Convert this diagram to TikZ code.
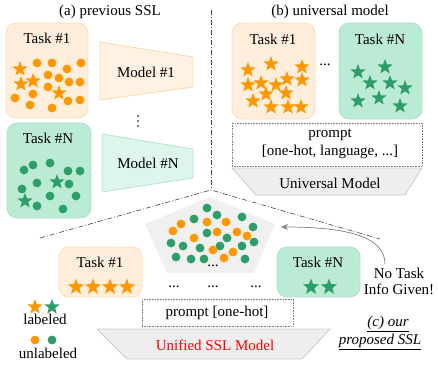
\documentclass[tikz,border=0pt]{standalone}
\usepackage{fontspec}
\setmainfont{Liberation Serif}
\usetikzlibrary{shapes.geometric,arrows.meta}
\definecolor{oran}{RGB}{255,152,0}
\definecolor{gree}{RGB}{46,158,104}
\definecolor{obox}{RGB}{255,238,219}
\definecolor{oboxb}{RGB}{252,222,184}
\definecolor{gbox}{RGB}{188,235,213}
\definecolor{gboxb}{RGB}{172,228,200}
\definecolor{omod}{RGB}{255,242,227}
\definecolor{omodb}{RGB}{250,217,171}
\definecolor{gmod}{RGB}{221,245,234}
\definecolor{gmodb}{RGB}{179,230,206}
\definecolor{gfill}{RGB}{240,240,240}
\definecolor{umod}{RGB}{238,238,238}
\definecolor{umodb}{RGB}{204,204,204}
\tikzset{
  txt/.style={inner sep=0pt, font=\fontsize{15}{16}\selectfont},
  ostar/.style={star, star points=5, star point ratio=2.4, minimum size=16pt, inner sep=0pt, fill=oran},
  gstar/.style={star, star points=5, star point ratio=2.4, minimum size=16pt, inner sep=0pt, fill=gree},
  odot/.style={circle, minimum size=8.8pt, inner sep=0pt, fill=oran},
  gdot/.style={circle, minimum size=8.8pt, inner sep=0pt, fill=gree},
  vdot/.style={circle, minimum size=1.6pt, inner sep=0pt, fill=black},
  otask/.style={draw=oboxb, fill=obox, rounded corners=10pt, line width=0.8pt},
  gtask/.style={draw=gboxb, fill=gbox, rounded corners=10pt, line width=0.8pt},
  sepline/.style={draw=black!75, line width=0.6pt, dash pattern=on 5pt off 2pt on 1pt off 2pt},
  promptbox/.style={draw=gray, densely dotted, line width=0.6pt},
}
\begin{document}
\begin{tikzpicture}[x=1pt,y=-1pt]
\useasboundingbox (0,0) rectangle (438,369);
% separators
\coordinate (sepT) at (211,10);
\coordinate (sepM) at (211,190);
\coordinate (sepL) at (40,238);
\coordinate (sepR) at (380,239);
\draw[sepline] (sepT) -- (sepM);
\draw[sepline] (sepL) -- (sepM) -- (sepR);

% titles
\node[txt] (ta) at (110,12) {(a) previous SSL};
\node[txt] (tb) at (330,12) {(b) universal model};

% (a) Task #1
\draw[otask] (6,23) rectangle (88,118);
\node[txt] (a1) at (47,38) {Task \#1};
\foreach \p in {(37,63),(52,63),(81,63),(67,69),(48,75),(59,78),(69,82),(80,82),(48,87),(33,94),(15,98),(30,105),(68,101),(80,100),(52,108)}
  \node[odot] at \p {};
\foreach \p in {(20,69),(21,84),(33,81),(59,93)}
  \node[ostar] at \p {};
% Model #1
\filldraw[draw=omodb, fill=omod, line width=0.8pt] (100,42) -- (193,57) -- (193,87) -- (100,100) -- cycle;
\node[txt] (m1) at (146,72) {Model \#1};
\node[vdot] (vd1) at (138,116) {};
\node[vdot] (vd2) at (138,121) {};
\node[vdot] (vd3) at (138,126) {};

% (a) Task #N
\draw[gtask] (7,123) rectangle (91,218);
\node[txt] (aN) at (48,138) {Task \#N};
\foreach \p in {(24,170),(33,165),(50,163),(68,171),(80,171),(37,183),(69,184),(22,189),(50,196),(76,196),(37,206),(63,209)}
  \node[gdot] at \p {};
\foreach \p in {(57,182),(25,201)}
  \node[gstar] at \p {};
\filldraw[draw=gmodb, fill=gmod, line width=0.8pt] (102,134) -- (193,149) -- (193,178) -- (102,192) -- cycle;
\node[txt] (mN) at (148,163) {Model \#N};

% (b)
\draw[otask] (232,23) rectangle (315,119);
\node[txt] (b1) at (273,39) {Task \#1};
\foreach \p in {(248,70),(271,64),(302,67),(248,85),(261,83),(276,85),(287,79),(302,80),(266,94),(286,93),(253,101),(271,107),(288,107),(301,107)}
  \node[ostar] at \p {};
\node[txt] (bdots) at (325,65) {...};
\draw[gtask] (339,23) rectangle (422,119);
\node[txt] (bN) at (380,39) {Task \#N};
\foreach \p in {(358,72),(385,67),(370,83),(390,83),(405,88),(358,101),(379,98),(400,106)}
  \node[gstar] at \p {};
\draw[promptbox] (232,123) rectangle (422,166);
\node[txt] (bp1) at (330,135) {prompt};
\node[txt] (bp2) at (330,152) {[one-hot, language, ...]};
\filldraw[draw=umodb, fill=umod, line width=0.8pt] (232,168) -- (422,168) -- (405,195) -- (256,195) -- cycle;
\node[txt] (um) at (330,183) {Universal Model};

% (c) pentagon
\fill[gfill] (210,197) -- (275,224) -- (254,273) -- (167,273) -- (145,224) -- cycle;
\coordinate (pentR) at (281,227);
\foreach \p in {(207,208),(217,215),(242,217),(194,219),(253,227),(207,233),(227,238),(171,243),(183,246),(200,248),(220,246),(242,246),(254,242),(176,257),(191,259),(204,259),(245,259)}
  \node[gdot] at \p {};
\foreach \p in {(181,224),(173,231),(207,222),(226,222),(217,232),(237,232),(247,236),(194,238),(213,250),(233,252),(224,258)}
  \node[odot] at \p {};
\node[txt] (pdots) at (213,266) {...};

% (c) tasks
\draw[otask] (59,247) rectangle (142,297);
\node[txt] (c1) at (100,262) {Task \#1};
\foreach \x in {76,93,110,127}
  \node[ostar, minimum size=17pt] at (\x,287) {};
\draw[gtask] (277,247) rectangle (360,297);
\node[txt] (cN) at (318,262) {Task \#N};
\foreach \x in {311,329}
  \node[gstar, minimum size=17pt] at (\x,287) {};
\node[txt] (d1) at (174,287) {...};
\node[txt] (d2) at (213,287) {...};
\node[txt] (d3) at (256,287) {...};

% no task info
\node[txt, align=center] (noinfo) at (399,281) {No Task\\Info Given!};
\coordinate (arrS) at (385,264);
\draw[gray, line width=0.7pt, -{Stealth[length=7pt,width=6pt]}] (arrS) .. controls (385,236) and (345,227) .. (pentR);

% prompt & unified model
\draw[promptbox] (142,299) rectangle (293,326);
\node[txt] (cp) at (217,313) {prompt [one-hot]};
\filldraw[draw=umodb, fill=umod, line width=0.8pt] (97,329) -- (330,329) -- (302,359) -- (127,359) -- cycle;
\node[txt, text=red] (us) at (215,345) {Unified SSL Model};

% legend
\node[ostar] (ls1) at (35,307) {};
\node[gstar] (ls2) at (52,307) {};
\node[txt] (lab) at (45,319) {labeled};
\node[odot] (ld1) at (35,340) {};
\node[gdot] (ld2) at (52,340) {};
\node[txt] (ulab) at (48,353) {unlabeled};

% caption c
\node[txt] (cc1) at (388,324) {\underline{\textit{(c) our}}};
\node[txt] (cc2) at (380,342) {\underline{\textit{proposed SSL}}};
\end{tikzpicture}
\end{document}
